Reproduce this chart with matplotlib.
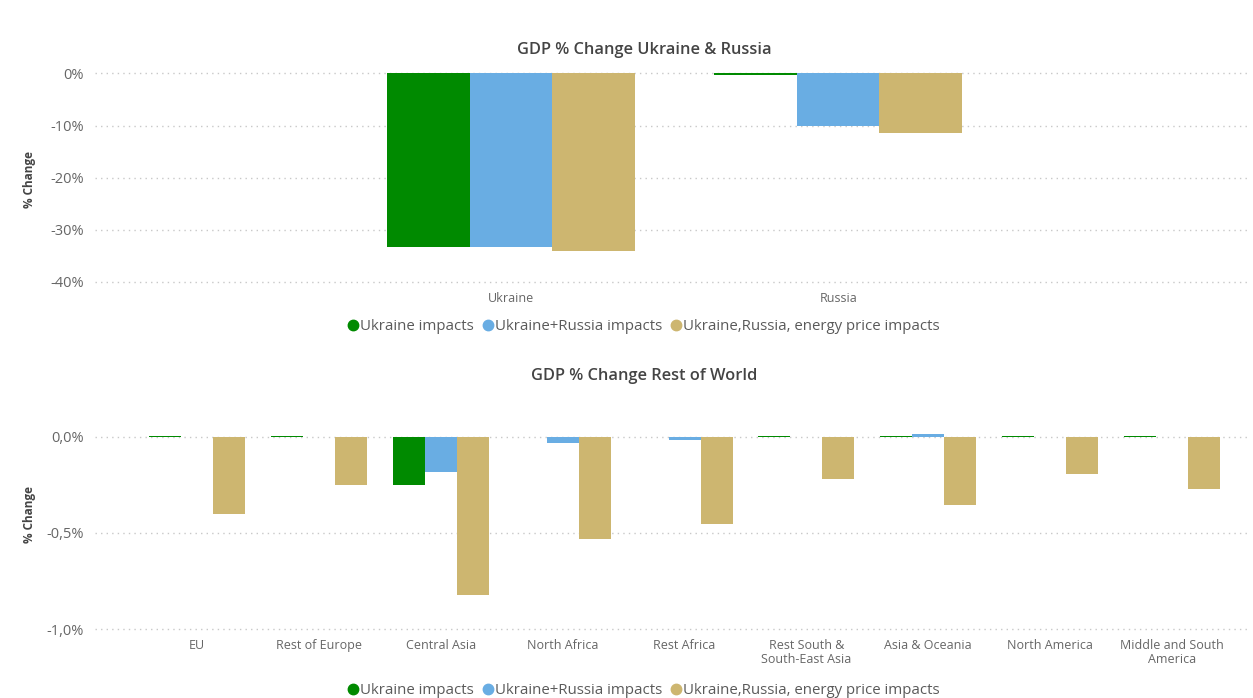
import numpy as np
import matplotlib.pyplot as plt
from matplotlib.lines import Line2D

plt.rcParams['font.family'] = ['Open Sans', 'DejaVu Sans']

# data
series_names = ["Ukraine impacts", "Ukraine+Russia impacts", "Ukraine,Russia, energy price impacts"]
colors = ["#008A00", "#69ADE3", "#CDB670"]

top_categories = ["Ukraine", "Russia"]
top_ukraine = [-33.3, -0.3]
top_ukr_rus = [-33.3, -10.1]
top_energy = [-34.1, -11.4]

world_categories = ["EU", "Rest of Europe", "Central Asia", "North Africa", "Rest Africa",
                    "Rest South &\nSouth-East Asia", "Asia & Oceania", "North America",
                    "Middle and South\nAmerica"]
world_ukraine = [0.003, 0.002, -0.25, -0.004, -0.004, 0.003, 0.003, 0.003, 0.003]
world_ukr_rus = [-0.002, -0.004, -0.185, -0.033, -0.02, -0.003, 0.012, -0.003, -0.002]
world_energy = [-0.40, -0.25, -0.82, -0.53, -0.455, -0.22, -0.355, -0.196, -0.27]

text_gray = "#666666"
title_gray = "#444444"

fig = plt.figure(figsize=(12.53, 6.98), dpi=100)
fig.patch.set_facecolor("white")


def style_axes(ax):
    for s in ax.spines.values():
        s.set_visible(False)
    ax.tick_params(length=0, colors=text_gray)
    ax.tick_params(axis="y", pad=8)
    ax.tick_params(axis="x", pad=5)
    ax.yaxis.grid(True, linestyle=(0, (1, 3)), color="#c8c8c8", linewidth=1)
    ax.set_axisbelow(True)


def draw_bars(ax, n, series, width):
    x = np.arange(n)
    for i, vals in enumerate(series):
        ax.bar(x + (i - 1) * width, vals, width, color=colors[i], linewidth=0)
    return x


# top chart
ax1 = fig.add_axes([0.076, 0.585, 0.922, 0.33])
x1 = draw_bars(ax1, len(top_categories), [top_ukraine, top_ukr_rus, top_energy], 0.252)
ax1.set_xlim(-1.27, 2.26)
ax1.set_ylim(-41.5, 2.7)
ax1.set_yticks([0, -10, -20, -30, -40])
ax1.set_yticklabels(["0%", "-10%", "-20%", "-30%", "-40%"], fontsize=10.5)
ax1.set_xticks(x1)
ax1.set_xticklabels(top_categories, fontsize=9)
style_axes(ax1)
ax1.tick_params(axis="x", pad=2)
ax1.set_ylabel("% Change", fontsize=8.5, fontweight="bold", color=title_gray)
ax1.yaxis.set_label_coords(-0.051, 0.478)
fig.text(0.514, 0.929, "GDP % Change Ukraine & Russia", ha="center", va="center",
         fontsize=11.8, fontweight="semibold", color=title_gray)

# bottom chart
ax2 = fig.add_axes([0.076, 0.09, 0.922, 0.337])
x2 = draw_bars(ax2, len(world_categories), [world_ukraine, world_ukr_rus, world_energy], 0.263)
ax2.set_xlim(-0.837, 8.645)
ax2.set_ylim(-1.03, 0.19)
ax2.set_yticks([0, -0.5, -1.0])
ax2.set_yticklabels(["0,0%", "-0,5%", "-1,0%"], fontsize=10.5)
ax2.set_xticks(x2)
ax2.set_xticklabels(world_categories, fontsize=9, linespacing=1.05)
style_axes(ax2)
ax2.tick_params(axis="x", pad=3)
ax2.set_ylabel("% Change", fontsize=8.5, fontweight="bold", color=title_gray)
ax2.yaxis.set_label_coords(-0.051, 0.515)
fig.text(0.514, 0.461, "GDP % Change Rest of World", ha="center", va="center",
         fontsize=11.8, fontweight="semibold", color=title_gray)

# legends
handles = [Line2D([0], [0], marker="o", linestyle="", markersize=7.5, color=c) for c in colors]
for ypos in (0.532, 0.011):
    fig.legend(handles, series_names, loc="center", bbox_to_anchor=(0.513, ypos), ncol=3,
               frameon=False, fontsize=10.8, handletextpad=0.0, columnspacing=0.4,
               labelcolor="#5a5a5a", handlelength=1.0)

plt.savefig("out.png", dpi=100)
